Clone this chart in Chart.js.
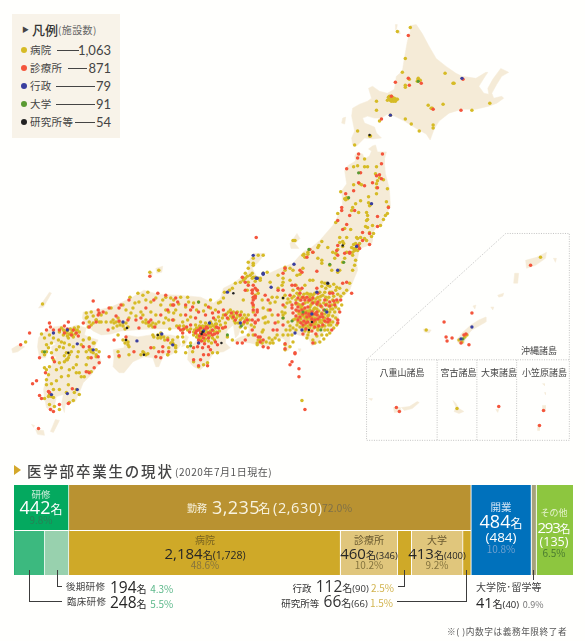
<!DOCTYPE html>
<html lang="ja"><head><meta charset="utf-8">
<script src="https://cdn.jsdelivr.net/npm/chart.js@4/dist/chart.umd.min.js"></script>
<style>
html,body{margin:0;padding:0;background:#fffffd;width:585px;height:641px;overflow:hidden}
body{position:relative;font-family:"Noto Sans CJK JP","Noto Sans",sans-serif;color:#444}
canvas{position:absolute;display:block}
.t{position:absolute;white-space:nowrap;transform:translateY(-50%);line-height:1}
.c{transform:translate(-50%,-50%);text-align:center}
.r{transform:translate(-100%,-50%)}
.n{font-family:"Open Sans","Noto Sans CJK JP",sans-serif;font-weight:500}
.l{position:absolute;background:#3c3c3c}
#legendBox{position:absolute;left:12px;top:14px;width:108px;height:124px;background:#f8f3e9}
.d{position:absolute;width:6px;height:6px;border-radius:50%;transform:translate(-50%,-50%)}
</style></head><body>
<canvas id="map" width="585" height="641" style="left:0;top:0"></canvas>
<div id="legendBox"></div>
<canvas id="bars" width="559" height="90" style="left:14px;top:485px"></canvas>
<div id="overlay"></div>
<script>
// ---- map facility values (map units) ----
const hospitals = [
411,26,398,30,406,57,403,71,446,72,454,82,455,82,419,78,418,80,421,79,419,77,406,84,406,86,410,78,377,100,377,109,390,97,393,98,395,97,397,98,392,100,394,100,389,96,392,95,398,98,429,104,432,107,433,107,444,103,491,102,473,109,406,118,412,123,420,130,434,124,434,127,380,120,358,130,370,135,371,135,391,114,355,144,
365,158,377,166,354,166,358,165,365,166,368,166,376,173,380,177,384,179,378,180,377,183,377,187,360,183,362,184,354,184,388,188,377,193,369,196,341,191,347,197,345,198,348,198,346,199,361,200,356,203,352,210,353,207,359,212,369,202,370,205,371,204,387,201,389,206,388,213,386,215,384,219,367,212,368,215,368,219,367,220,338,213,336,222,351,229,345,228,366,226,368,227,373,225,381,225,370,232,374,233,372,236,365,238,367,240,361,237,357,237,347,237,340,237,343,241,340,242,344,243,343,246,322,241,319,245,318,247,328,247,333,252,295,240,338,249,336,253,352,247,358,238,355,250,358,250,356,243,353,252,353,255,318,258,304,254,305,257,345,258,335,258,
303,255,308,252,313,252,337,254,347,252,340,270,338,272,330,265,322,260,343,262,356,260,355,265,353,270,350,283,347,290,340,288,337,287,332,292,327,283,328,285,325,283,315,293,318,297,323,295,325,292,330,292,320,292,310,297,308,302,305,303,312,303,315,302,320,300,318,305,322,307,300,290,302,297,307,293,305,298,300,300,315,308,310,310,308,315,305,318,303,322,300,322,307,322,312,318,315,318,318,315,313,315,322,313,325,318,305,325,308,326,313,325,318,325,322,323,298,318,302,315,305,313,310,307,327,310,332,305,335,303,333,300,338,302,330,312,342,305,333,322,330,322,337,325,325,330,328,330,327,335,318,330,320,342,313,340,315,343,307,338,308,335,290,330,292,335,288,335,293,342,290,347,285,345,285,350,277,335,275,338,272,340,270,343,273,343,262,332,258,340,262,343,257,343,265,323,263,308,268,310,265,317,275,302,272,297,283,298,285,295,282,285,278,288,283,278,283,282,285,270,285,267,267,272,263,273,263,255,258,255,253,263,250,275,255,277,258,278,260,280,252,278,257,290,253,298,253,307,253,312,290,302,282,312,285,313,283,315,283,318,288,322,293,320,305,285,293,290,297,275,293,270,303,268,300,274,313,280,322,282,332,270,322,263,312,316,307,320,316,322,320,320,310,324,315,324,309,312,314,309,304,309,299,314,302,306,311,305,317,309,300,305,296,300,294,296,311,294,297,293,321,296,
298,304,301,308,304,311,307,311,310,313,313,311,316,313,319,311,322,316,325,314,328,316,300,313,297,311,303,316,306,316,309,318,311,320,314,321,317,319,320,322,323,320,326,322,329,325,301,319,298,322,295,319,303,327,306,328,310,328,314,328,318,328,322,327,325,326,312,300,316,299,320,304,324,303,327,300,329,306,333,309,336,307,339,309,326,297,329,297,334,296,309,294,313,295,304,294,299,295,296,304,292,298,288,299,287,303,322,286,326,288,330,286,334,284,336,290,338,294,341,296,344,293,327,304,331,309,335,312,329,315,333,316,336,318,331,325,334,328,330,333,322,335,324,339,317,336,305,331,309,332,300,327,297,325,293,328,296,330,266,342,269,338,279,340,283,335,286,330,290,326,262,300,270,303,277,297,268,322,272,315,278,322,263,330,285,307,296,285,290,280,278,275,270,282,290,268,310,280,
253,258,253,265,248,262,248,268,252,273,253,277,260,278,245,273,240,282,243,278,247,276,235,283,232,288,229,290,224,292,220,302,218,303,223,298,243,300,247,290,258,293,263,318,255,295,170,298,165,297,173,300,180,297,187,297,188,302,185,307,193,303,198,302,205,305,210,308,215,310,175,310,168,312,173,320,182,322,187,320,190,317,195,325,200,322,205,323,210,322,215,320,218,317,223,315,228,312,233,312,237,315,232,318,240,320,245,320,248,315,235,323,240,327,245,328,242,332,248,335,253,335,260,340,257,345,198,328,202,328,205,330,207,335,198,338,197,335,193,332,210,327,215,328,220,325,225,323,223,328,227,337,232,340,217,337,187,330,182,330,169,329,190,343,187,347,185,353,192,352,193,362,203,365,198,367,207,363,212,353,217,353,182,337,183,342,177,337,172,343,175,348,175,352,168,348,167,355,
233,315,236,318,239,316,242,318,244,315,246,318,249,320,241,312,237,312,230,316,228,319,234,321,238,323,243,324,247,323,251,325,254,327,230,310,226,314,222,318,219,321,215,324,196,328,199,326,202,326,205,326,208,325,211,324,213,326,216,324,194,330,200,331,204,333,207,332,210,331,213,331,216,332,219,331,193,335,196,337,200,339,204,341,201,337,205,339,209,336,212,338,208,341,211,343,214,340,190,329,185,328,183,326,179,326,176,326,248,282,245,278,243,280,255,281,
129,297,137,293,142,295,147,292,150,302,160,305,165,310,173,313,134,303,122,305,110,308,105,313,85,313,90,312,85,318,95,320,100,315,110,322,113,323,117,318,118,322,122,323,130,313,140,312,142,315,145,320,147,323,150,325,158,322,163,323,168,320,112,328,117,335,125,340,127,345,128,347,88,339,93,343,98,352,90,350,92,353,95,355,87,358,117,352,128,355,142,352,145,355,140,355,153,337,157,335,160,338,163,337,167,338,170,343,173,345,172,340,167,355,153,348,118,357,160,333,152,335,112,320,115,322,119,325,122,326,125,323,116,326,127,327,124,329,142,322,145,323,148,326,152,323,155,324,152,327,122,340,127,342,124,343,157,338,160,336,164,340,143,353,147,354,171,343,175,346,125,310,132,308,138,302,145,300,155,298,162,300,170,305,178,304,196,310,203,311,210,300,180,315,165,318,155,315,150,312,135,316,128,318,100,322,105,322,92,316,88,322,
86,317,40,334,24,342,43,338,45,345,50,343,57,340,60,342,67,338,70,333,73,328,77,327,78,332,65,333,62,330,58,332,48,335,52,338,63,343,72,337,82,340,88,338,87,327,92,323,95,320,98,322,90,325,92,343,88,350,90,352,95,350,87,358,85,365,90,372,87,372,95,357,45,352,43,355,41,352,47,348,50,353,52,360,58,363,65,360,68,355,67,358,63,362,77,352,76,357,75,365,85,352,78,373,80,377,75,373,83,377,67,376,60,377,55,381,45,370,47,375,45,380,45,385,50,384,58,390,67,385,65,393,75,390,73,393,78,395,72,401,68,403,48,405,53,407,58,410,43,399,48,395,52,390,48,367,43,368,60,328,63,331,66,331,69,329,71,331,74,330,76,330,68,334,71,335,74,334,66,336,62,335,47,397,50,397,52,398,65,353,63,356,66,360,70,352,55,350,58,347,62,348,68,345,72,347,80,345,55,370,60,368,68,370,72,368,
388,99,391,99,396,100,393,96,395,99,390,95,354,244,356,248,359,246,360,243,354,248,308,254,
293,240,149,272,158,270,41,304,302,401,542,257,427,330,460,340,463,342,466,337,468,335,458,409
];
const clinics = [
409,34,396,81,409,77,410,84,422,82,392,95,382,118,462,109,464,78,434,108,
359,153,358,157,383,153,382,163,347,168,361,172,380,174,377,175,373,182,359,182,365,185,354,190,346,193,342,207,342,210,355,210,350,215,378,216,338,220,347,224,378,226,343,229,363,232,370,233,363,240,358,245,360,248,338,245,337,250,370,244,389,207,378,187,382,178,313,252,307,257,338,255,350,252,310,249,
345,253,350,253,317,271,300,270,302,272,285,268,295,285,292,285,283,273,278,290,255,288,252,290,252,293,255,298,255,296,252,303,257,312,252,320,255,322,252,330,260,337,263,340,268,348,273,330,277,330,275,323,293,313,292,305,292,308,298,307,298,288,302,288,300,293,298,298,303,297,307,297,318,293,330,293,333,293,347,282,343,283,317,288,325,300,313,298,308,307,302,310,305,308,312,312,317,312,320,317,317,315,307,317,300,317,303,325,308,322,315,320,313,322,323,317,328,322,330,320,338,320,338,323,332,330,313,343,285,344,285,349,295,353,292,362,290,365,299,369,295,354,299,377,305,410,283,305,335,305,330,302,352,293,310,300,303,304,310,316,304,321,296,316,318,302,324,310,
299,311,303,314,306,313,309,314,312,319,315,314,318,319,322,314,325,321,328,319,306,323,311,325,315,327,319,326,323,325,301,323,298,320,296,310,296,303,301,300,305,300,309,300,313,303,317,304,321,306,326,305,330,306,334,301,337,300,341,300,340,312,303,334,306,329,312,331,316,334,265,295,270,310,278,315,283,325,290,295,283,290,268,300,
253,285,245,282,248,285,242,277,245,290,252,290,257,290,253,297,253,300,253,305,257,310,253,310,255,315,258,320,255,323,255,335,258,337,260,342,263,347,175,298,177,302,173,305,185,305,192,307,198,312,208,307,212,313,213,318,218,312,223,310,225,315,222,328,190,310,185,315,190,325,178,328,180,330,182,333,198,330,202,335,205,335,208,333,203,338,208,338,212,335,215,342,217,345,198,343,197,347,202,348,193,348,208,347,210,350,203,355,208,355,200,360,193,360,207,366,198,366,237,343,242,343,245,340,172,320,167,340,233,317,227,318,225,327,200,333,204,329,199,336,206,327,196,331,200,328,203,334,207,328,210,333,214,334,217,333,201,341,204,344,198,340,195,333,212,330,216,327,218,328,189,332,186,327,183,329,236,313,240,315,244,322,247,320,235,320,231,313,205,315,195,318,
92,301,108,308,118,308,120,305,115,316,97,310,102,312,98,313,97,315,135,320,140,318,150,320,157,293,165,295,153,300,167,310,172,305,107,330,113,340,125,337,133,352,138,328,127,320,95,322,162,347,168,352,162,352,150,348,160,358,155,357,118,356,108,357,158,352,118,321,148,322,154,327,128,300,145,308,160,315,
48,323,49,327,45,330,52,330,67,322,82,323,63,326,77,336,72,330,28,333,19,345,38,358,88,347,82,347,98,363,93,368,97,357,90,358,85,372,88,373,53,362,51,358,44,373,31,384,35,381,38,396,40,399,47,392,48,393,49,410,52,412,58,405,67,404,71,389,88,327,66,329,70,335,75,333,63,333,58,330,
256,237,149,276,37,429,532,265,473,313,445,322,447,337,448,341,453,338,470,345,467,334,465,335,462,343,397,408,400,412,500,407,545,411,541,426
];
const governments = [
463,77,391,114,372,203,357,246,294,264,263,274,271,287,256,278,312,314,302,330,327,312,317,292,338,270,295,333,328,283,227,292,257,278,209,323,240,323,203,331,172,345,198,343,253,255,263,273,122,322,136,341,161,334,52,333,66,330,76,344,92,350,76,390,50,395,66,394,473,327,462,339
];
const universities = [
419,80,349,197,309,249,359,172,303,312,283,318,292,321,321,330,325,310,344,262,330,264,227,335,190,346,241,326,198,302,43,352,464,339
];
const laboratories = [
370,134,343,245,312,322,309,330,283,298,328,283,233,293,201,334,202,332,221,343,126,328,125,340,143,355,157,335,67,353
];
// ---- land outlines (map units) ----
const hokkaido = [411,24,417,23,423,32,430,45,437,57,447,65,457,72,463,75,477,77,487,71,489,71,485,77,480,85,485,92,490,93,489,87,494,78,502,67,510,71,503,75,498,83,493,92,495,97,503,95,505,97,498,102,490,105,477,108,463,108,450,112,440,120,435,128,431,139,427,133,418,128,405,120,395,115,388,113,382,117,375,117,368,115,363,117,365,122,375,126,377,132,382,137,373,138,365,137,357,145,353,144,352,137,355,130,352,115,353,107,360,103,368,100,372,97,369,87,373,85,380,90,388,92,395,88,397,75,403,70,405,57,408,40,411,30];
const rishiri = [396,23,398,23,397,28,396,28];
const rebun = [397,29,400,29,401,32,398,32];
const okushiri = [343,117,346,116,345,123,342,122];
const honshu = [373,145,376,144,378,151,387,151,385,158,385,162,386,173,390,188,391,205,385,218,382,225,377,227,373,232,373,240,372,244,360,248,357,263,358,270,353,282,350,290,343,297,337,307,340,322,333,327,323,333,318,343,312,346,308,337,314,332,318,326,310,328,306,337,298,335,293,332,290,337,289,350,285,352,285,340,282,338,275,340,270,345,267,347,257,345,250,343,236,342,233,341,240,337,248,335,249,328,241,326,238,335,235,338,233,325,227,330,226,334,225,343,230,348,223,352,213,353,207,363,200,370,193,367,187,360,188,348,195,342,199,337,199,331,187,329,175,329,160,329,150,329,135,330,120,331,110,334,100,335,92,331,85,325,81,318,82,312,97,310,110,307,130,298,143,290,157,294,177,295,200,297,213,303,220,298,223,288,233,283,248,272,248,262,253,253,265,253,258,262,252,268,257,277,265,275,280,268,293,263,300,255,305,250,308,250,320,240,333,225,343,207,342,190,347,183,345,170,348,165,356,160,355,155,357,152,363,153,365,158,370,155,372,150,369,148];
const sado = [297,233,300,238,295,243,299,248,291,248,290,243];
const shikoku = [112,350,123,348,125,335,137,337,150,335,170,335,178,337,180,345,175,352,170,355,163,355,158,367,155,367,152,358,143,357,132,362,123,373,118,373,112,367,113,357];
const awaji = [185,335,181,347,184,346,188,337];
const kyushu = [40,334,46,331,52,327,60,326,65,329,75,325,85,328,83,335,90,338,97,340,93,348,96,352,100,362,95,368,90,375,82,383,78,393,74,402,64,405,63,413,60,405,62,395,55,397,53,407,50,412,45,408,43,398,42,390,44,382,47,372,52,362,55,357,51,356,50,347,55,344,50,342,46,352,44,358,38,358,36,347,37,338];
const smallIslands = [
[48,292,50,293,42,307,37,308],[155,268,162,266,161,272,156,273],[148,272,152,272,151,276],[10,349,17,345,23,347,16,352,11,353],[34,430,42,431,43,436,36,435],[54,420,58,421,52,433,49,432],[30,425,33,426,32,428],[298,349,301,349,300,352],
[527,260,538,257,548,252,547,258,537,265,528,268],[555,258,558,258,557,262],[516,273,520,273,519,283,515,283],[499,295,505,293,504,296,500,297],[492,307,495,307,494,310],[487,317,487,322,473,330,467,337,465,344,459,343,458,340,463,333,472,325,480,320],[474,306,477,305,476,309],[424,329,432,330,430,333,425,332],
[418,402,420,403,413,409,405,411,402,408,410,407],[394,408,401,408,402,412,395,413],[369,399,373,399,372,401],[454,401,457,404,460,409,465,412,460,414,455,412,457,408],[497,410,500,410,499,413],[544,384,546,384,546,386],[546,393,547,393,547,395],[544,406,547,406,547,412,544,412],[539,425,541,425,541,431,539,431]
];
const insetFrame = [367,360,507,233,571,233,571,441,367,441,367,360,571,360];
const insetDividers = [[438,360,438,441],[478,360,478,441],[518,360,518,441]];
// ---- graduates bar values ----
const rowLabels = ['上段','下段'];
const segmentNames = ['研修','臨床研修','後期研修','勤務','病院','診療所','行政','大学','研究所等','開業','大学院・留学等','その他'];
const upperValues = [442,0,0,3235,0,0,0,0,0,484,41,293];
const lowerValues = [0,248,194,0,2184,460,112,413,66,484,41,293];
const segmentColors = ['#04a95f','#3cb97f','#98d1ae','#b99231','#cfa928','#e0c67c','#cfa928','#e0c67c','#cfa928','#0071bc','#a6a27c','#8dc63f'];
const legendNames = ['病院','診療所','行政','大学','研究所等'];
const legendCounts = ['1,063','871','79','91','54'];
const legendColors = ['#d6bb26','#f4553c','#3a3f9f','#5a9a32','#222222'];

const pairs = a => { const o=[]; for(let i=0;i<a.length;i+=2) o.push({x:a[i],y:a[i+1]}); return o; };
const land = a => { const p=pairs(a); p.push(p[0]); return {data:p,showLine:true,fill:'shape',backgroundColor:'#f5ebd7',borderColor:'#f5ebd7',borderWidth:0.5,pointRadius:0,tension:0,order:10}; };
const dots = (a,c,r,o) => ({data:pairs(a),backgroundColor:c,borderWidth:0,pointRadius:r,pointHoverRadius:r,order:o});
const frame = a => ({data:pairs(a),showLine:true,fill:false,borderColor:'#b4b4b4',borderWidth:0.8,borderDash:[1,1.4],pointRadius:0,tension:0,order:9});

new Chart(document.getElementById('map'),{type:'scatter',data:{datasets:[
  dots(laboratories,'#222222',1.25,1),
  dots(governments,'#3a3f9f',1.7,2),
  dots(universities,'#5a9a32',1.6,3),
  dots(clinics,'#f4553c',1.75,4),
  dots(hospitals,'#d6bb26',1.75,5),
  frame(insetFrame),...insetDividers.map(frame),
  ...[hokkaido,rishiri,rebun,okushiri,honshu,sado,shikoku,awaji,kyushu,...smallIslands].map(land)
]},options:{responsive:false,animation:false,events:[],layout:{padding:0},
  plugins:{legend:{display:false},tooltip:{enabled:false}},
  scales:{x:{type:'linear',min:0,max:585,display:false},y:{type:'linear',min:0,max:641,reverse:true,display:false}}}});

new Chart(document.getElementById('bars'),{type:'bar',data:{labels:rowLabels,datasets:segmentNames.map((n,i)=>({
  label:n,data:[upperValues[i],lowerValues[i]],backgroundColor:segmentColors[i],borderColor:'#fffffd',
  borderSkipped:false,
  borderWidth:(upperValues[i]&&lowerValues[i])?{right:i===11?0:1,left:0,top:0,bottom:0}:{right:i===11?0:1,left:0,top:lowerValues[i]?1.4:0,bottom:0},
  barPercentage:1,categoryPercentage:1,stack:'s'}))},
 options:{indexAxis:'y',responsive:false,animation:false,events:[],layout:{padding:0},
  plugins:{legend:{display:false},tooltip:{enabled:false}},
  scales:{x:{stacked:true,min:0,max:4495,display:false},y:{stacked:true,display:false}}}});

// ---- text ----
const ov = document.getElementById('overlay');
function T(x,y,html,style,cls){const e=document.createElement('div');e.className='t '+(cls||'');e.style.cssText=`left:${x}px;top:${y}px;`+(style||'');e.innerHTML=html;ov.appendChild(e);}
function L(x,y,w,h,c){const e=document.createElement('div');e.className='l';e.style.cssText=`left:${x}px;top:${y}px;width:${w}px;height:${h}px;`+(c?`background:${c}`:'');ov.appendChild(e);}
const N=(v,fs,ls)=>`<span class="n" style="font-size:${fs}px;letter-spacing:${ls||0}px">${v}</span>`;
const U=(v,fs)=>`<span style="font-size:${fs}px">${v}</span>`;

// legend
T(22,29,'▶','font-size:7px;color:#444');
T(32,29,'凡例','font-size:13px;font-weight:500;color:#333');
T(58,30,'(施設数)','font-size:10px;letter-spacing:.4px;color:#666');
const legendLineStart=[57,68,56,56,75], legendLineEnd=[79,87,95,95,95], legendY=[49.5,67.5,85.5,103.5,121.5];
legendNames.forEach((n,i)=>{
  const d=document.createElement('div');d.className='d';d.style.cssText=`left:24px;top:${legendY[i]}px;background:${legendColors[i]}`;ov.appendChild(d);
  T(30,legendY[i],n,'font-size:10.5px;letter-spacing:.3px;color:#444');
  L(legendLineStart[i],legendY[i],legendLineEnd[i]-legendLineStart[i],0.8,'#444');
  T(111,legendY[i],legendCounts[i],'font-size:13px;font-family:Lato,sans-serif;font-weight:400;color:#444','r');
});

// inset labels
T(539,350,'沖縄諸島','font-size:9px;color:#444','c');
T(402,372,'八重山諸島','font-size:9px;color:#444','c');
T(458.5,372,'宮古諸島','font-size:9px;color:#444','c');
T(499,372,'大東諸島','font-size:9px;color:#444','c');
T(544.5,372,'小笠原諸島','font-size:9px;color:#444','c');

// section heading
const tri=document.createElement('div');tri.style.cssText='position:absolute;left:14px;top:465px;width:0;height:0;border-left:7px solid #d4a82a;border-top:5px solid transparent;border-bottom:5px solid transparent';ov.appendChild(tri);
T(27,470.5,'医学部卒業生の現状','font-size:14.5px;font-weight:500;letter-spacing:1.8px;color:#444');
T(175,471.5,'(2020年7月1日現在)','font-size:10px;letter-spacing:.55px;color:#555');

// bar labels
T(41,495,'研修','font-size:9.5px;color:#cfeedd','c');
T(41,507,N('442',18)+U('名',12),'color:#fff','c');
T(41,520,'9.8%','font-size:10px;color:#2a7f56','c');
T(187,507.5,'勤務','font-size:10px;color:#f8f3e0');
T(212,507,N('3,235',18,.4),'color:#f8f3e0');
T(258,507.5,'名','font-size:12.5px;color:#f8f3e0');
T(273,507,N('(2,630)',14.5,.6),'color:#f8f3e0');
T(322,507.5,'72.0%','font-size:10.5px;color:#7f7048');
T(205,540,'病院','font-size:10px;color:#7a6420','c');
T(205,552,N('2,184',15)+U('名',10)+N('(1,728)',10.5),'color:#262626','c');
T(205,565,'48.6%','font-size:10px;color:#85743f','c');
T(369,540,'診療所','font-size:10px;color:#6a5a30','c');
T(369,552,N('460',15)+U('名',10)+N('(346)',9.5),'color:#262626','c');
T(369,565,'10.2%','font-size:10px;color:#85743f','c');
T(437,540,'大学','font-size:10px;color:#6a5a30','c');
T(437,552,N('413',15)+U('名',10)+N('(400)',9.5),'color:#262626','c');
T(437,565,'9.2%','font-size:10px;color:#85743f','c');
T(501,507,'開業','font-size:10.5px;color:#cfe3f5','c');
T(501,521,N('484',18)+U('名',12),'color:#fff','c');
T(501,535.5,N('(484)',13.5),'color:#fff','c');
T(501,549,'10.8%','font-size:10px;color:#6fa0cf','c');
T(554,512,'その他','font-size:9px;color:#e6f3cf','c');
T(554,525.5,N('293',15,-1.2)+U('名',11),'color:#fff','c');
T(554,540,N('(135)',12.5),'color:#fff','c');
T(554,553,'6.5%','font-size:10px;color:#4a7a30','c');

// leaders and callouts
L(29.3,570,1,31.5);L(29.3,601,33,1);
L(57,570,1,16.5);L(57,586,5,1);
L(404,570,1,16.5);L(398,586,7,1);
L(466.3,570,1,31.5);L(397,601,70,1);
L(532.6,570,1,10);
T(66,586.5,'後期研修','font-size:9.5px;letter-spacing:.3px;color:#444');
T(110,586.5,N('194',15.5)+U('名',10)+' <span style="font-size:10px;color:#5cb88a">4.3%</span>','color:#262626');
T(67,601.5,'臨床研修','font-size:9.5px;letter-spacing:.3px;color:#444');
T(110,601.5,N('248',15.5)+U('名',10)+' <span style="font-size:10px;color:#5cb88a">5.5%</span>','color:#262626');
T(394,586.5,'行政 &nbsp;'+N('112',15.5)+U('名',10)+N('(90)',9.5)+' <span style="font-size:10px;color:#d2b44e">2.5%</span>','font-size:9.5px;color:#333','r');
T(393,601.5,'研究所等 &nbsp;'+N('66',15.5)+U('名',10)+N('(66)',9.5)+' <span style="font-size:10px;color:#d2b44e">1.5%</span>','font-size:9.5px;color:#333','r');
T(476,587,'大学院･留学等','font-size:10px;color:#444;letter-spacing:.1px');
T(476,601.5,N('41',14.5)+U('名',10)+N('(40)',9.5)+' <span style="font-size:9px;color:#777">0.9%</span>','color:#262626');
T(447,631.5,'※( )内数字は義務年限終了者','font-size:8.7px;letter-spacing:.55px;color:#555');
</script>
</body></html>
